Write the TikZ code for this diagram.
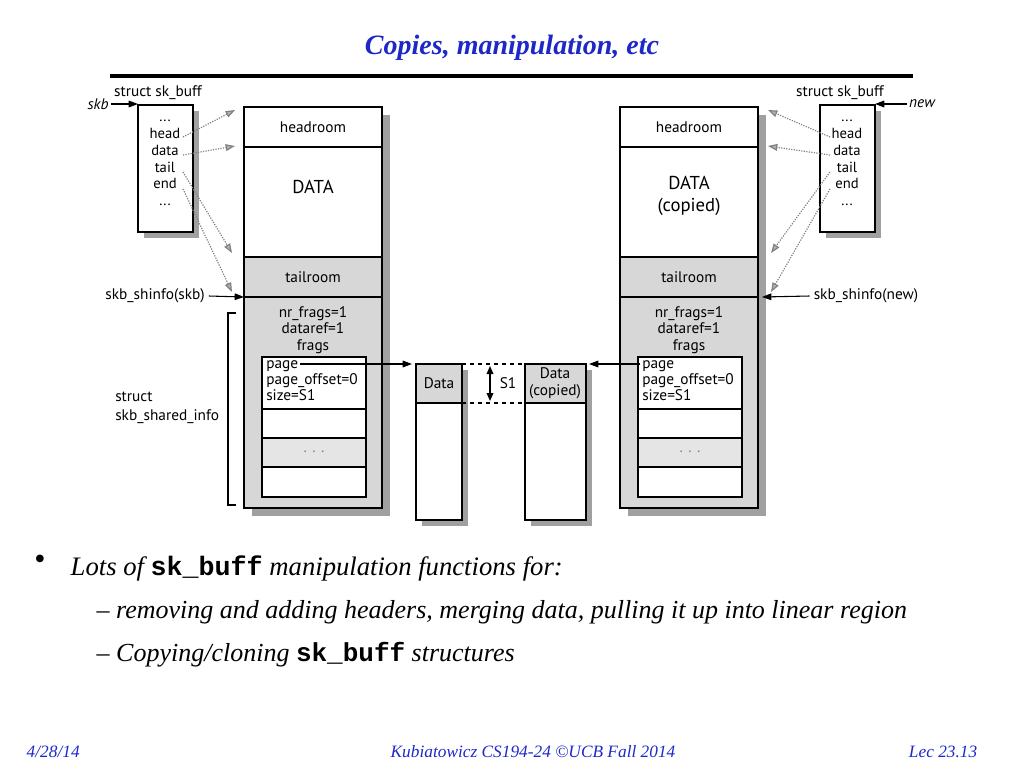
\documentclass[tikz,border=0pt]{standalone}
\usepackage{fontspec}
\setmainfont{Liberation Serif}
\newfontfamily\dg{PT Sans}
\newfontfamily\mono{Liberation Mono}
\usetikzlibrary{arrows.meta}
\definecolor{ttl}{RGB}{30,40,200}
\definecolor{gfill}{RGB}{215,215,215}
\definecolor{shd}{RGB}{160,160,160}
\begin{document}
\begin{tikzpicture}[x=0.75pt,y=-0.75pt,
  bx/.style={draw=black,line width=0.9pt},
  lb/.style={font=\dg\fontsize{11.5}{12}\selectfont,inner sep=0pt,align=center},
  dots/.style={densely dotted,draw=gray,line width=0.9pt,-{Triangle[length=7pt,width=5pt,fill=gray!60]}},
  ar/.style={-{Triangle[length=7pt,width=5pt]},line width=0.8pt}]
\useasboundingbox (0,0) rectangle (1024,768);
\node[font=\itshape\bfseries\fontsize{21}{23}\selectfont,text=ttl] (title) at (512,48) {Copies, manipulation, etc};
\draw[line width=3pt] (110,76) -- (913,76);
% big boxes
\foreach \x/\n in {244/L,620/R}{
  \fill[shd] (\x+8,115) rectangle (\x+146,516);
  \fill[white] (\x,107) rectangle (\x+138,257);
  \fill[gfill] (\x,257) rectangle (\x+138,508);
  \draw[bx] (\x,107) rectangle (\x+138,508);
  \draw[bx] (\x,147) -- (\x+138,147);
  \draw[bx] (\x,257) -- (\x+138,257);
  \draw[bx] (\x,297) -- (\x+138,297);
  \node[lb] (hr\n) at (\x+69,127) {headroom};
  \node[lb] (tr\n) at (\x+69,277) {tailroom};
  \node[lb,font=\dg\fontsize{11.5}{12.5}\selectfont] (nr\n) at (\x+69,330) {nr\_frags=1\\dataref=1\\frags};
  \fill[white] (\x+18,357) rectangle (\x+122,497);
  \fill[gray!20] (\x+18,438) rectangle (\x+122,467);
  \draw[bx] (\x+18,357) rectangle (\x+122,497);
  \foreach \y in {409,438,467} \draw[bx] (\x+18,\y) -- (\x+122,\y);
  \node[lb,font=\dg\fontsize{11.5}{12.3}\selectfont,align=left,anchor=north west] (pg\n) at (\x+22,360) {page\\page\_offset=0\\size=S1};
  \node[lb,text=gray] (dt\n) at (\x+70,452) {. . .};
  \coordinate (top\n) at (\x,297);
}
\node[lb,font=\dg\fontsize{14}{15}\selectfont] (dL) at (313,187) {DATA};
\node[lb,font=\dg\fontsize{14}{16}\selectfont] (dR) at (689,196) {DATA\\(copied)};
% struct boxes
\foreach \x/\n in {138/L,820/R}{
  \fill[shd] (\x+6,111) rectangle (\x+61,238);
  \fill[white] (\x,105) rectangle (\x+55,232);
  \draw[bx] (\x,105) rectangle (\x+55,232);
  \node[lb,font=\dg\fontsize{11}{12.6}\selectfont] (sv\n) at (\x+27,163) {...\\head\\data\\tail\\end\\...};
  \node[lb] (st\n) at (\x+20,93) {struct sk\_buff};
}
\node[lb,font=\dg\itshape\fontsize{11.5}{12}\selectfont] (skb) at (98,104) {skb};
\draw[ar] (skb.east) ++(2,0) -- (138,104);
\node[lb,font=\dg\itshape\fontsize{11.5}{12}\selectfont] (new) at (922,104) {new};
\draw[ar] (new.west) ++(-2,0) -- (875,104);
\node[lb] (shL) at (155,296) {skb\_shinfo(skb)};
\draw[ar] (shL.east) ++(4,0) -- (topL);
\node[lb] (shR) at (866,296) {skb\_shinfo(new)};
\draw[ar] (shR.west) ++(-4,0) -- (762,297);
% dotted pointers
\draw[dots] (183,137) -- (235,110);
\draw[dots] (183,155) -- (235,146);
\draw[dots] (183,172) -- (232,253);
\draw[dots] (183,189) -- (232,292);
\draw[dots] (830,137) -- (768,110);
\draw[dots] (830,155) -- (768,146);
\draw[dots] (830,172) -- (771,253);
\draw[dots] (830,189) -- (771,292);
% bracket
\draw[line width=0.8pt] (236,313) -- (228,313) -- (228,505) -- (236,505);
\node[lb,font=\dg\fontsize{11.5}{14}\selectfont,align=left,anchor=west] (ssi) at (115,408) {struct\\skb\_shared\_info};
% data pages
\foreach \x/\w/\n in {416/46/a,525/61/b}{
  \fill[shd] (\x+6,370) rectangle (\x+\w+6,526);
  \fill[white] (\x,364) rectangle (\x+\w,520);
  \fill[gfill] (\x,364) rectangle (\x+\w,403);
  \draw[bx] (\x,364) rectangle (\x+\w,520);
  \draw[bx] (\x,403) -- (\x+\w,403);
}
\node[lb] (pa) at (439,383) {Data};
\node[lb,font=\dg\fontsize{11.5}{12.5}\selectfont] (pb) at (555,383) {Data\\(copied)};
\draw[dashed,line width=0.8pt] (462,364) -- (525,364);
\draw[dashed,line width=0.8pt] (462,403) -- (525,403);
\draw[{Triangle[length=6pt,width=5pt]}-{Triangle[length=6pt,width=5pt]},line width=1pt] (490,366) -- (490,401);
\node[lb] (s1) at (508,383) {S1};
\draw[ar] (300,364) -- (412,364);
\draw[ar] (640,364) -- (589,364);
% bullets
\node[font=\fontsize{24}{26}\selectfont] (b0) at (40,562) {•};
\node[anchor=west,font=\itshape\fontsize{20}{22}\selectfont] (b1) at (66,568) {Lots of {\upshape\mono\bfseries sk\_buff} manipulation functions for:};
\node[anchor=west,font=\itshape\fontsize{19.5}{21}\selectfont] (b2) at (92,612) {{\upshape –} removing and adding headers, merging data, pulling it up into linear region};
\node[anchor=west,font=\itshape\fontsize{19.5}{21}\selectfont] (b3) at (92,655) {{\upshape –} Copying/cloning {\upshape\mono\bfseries sk\_buff} structures};
% footer
\node[anchor=west,font=\itshape\fontsize{13}{14}\selectfont,text=ttl] (f1) at (22,752) {4/28/14};
\node[font=\itshape\fontsize{13}{14}\selectfont,text=ttl] (f2) at (533,752) {Kubiatowicz CS194-24 ©UCB Fall 2014};
\node[anchor=east,font=\itshape\fontsize{13}{14}\selectfont,text=ttl] (f3) at (982,752) {Lec 23.13};
\end{tikzpicture}
\end{document}
